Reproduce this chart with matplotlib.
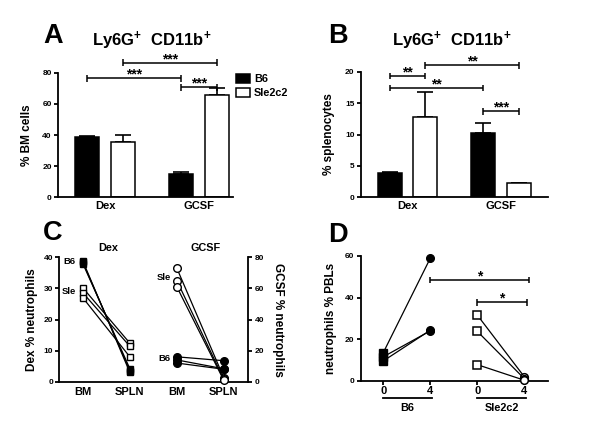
import matplotlib
matplotlib.use('Agg')
import matplotlib.pyplot as plt
import matplotlib.transforms as mtrans
from matplotlib.patches import Patch

plt.rcParams['font.family'] = ['Liberation Sans', 'DejaVu Sans']
plt.rcParams['font.weight'] = 'bold'
plt.rcParams['mathtext.default'] = 'regular'
plt.rcParams['axes.linewidth'] = 1.3
plt.rcParams['xtick.major.width'] = 1.3
plt.rcParams['ytick.major.width'] = 1.3
plt.rcParams['xtick.major.size'] = 3
plt.rcParams['ytick.major.size'] = 3
plt.rcParams['xtick.major.pad'] = 1.5
plt.rcParams['ytick.major.pad'] = 1.5

# ---------------- data ----------------
groups = ['Dex', 'GCSF']
strains = ['B6', 'Sle2c2']
title_txt = 'Ly6G$^{+}$  CD11b$^{+}$'

# Panel A: % BM cells
bm_b6 = [38.8, 14.8]
bm_b6_err = [0.8, 1.3]
bm_sle = [35.6, 66.0]
bm_sle_err = [4.4, 4.0]
# brackets: (group1, strain1, group2, strain2, height, label)
bm_sig = [(0, 0, 1, 0, 76.4, '***'), (0, 1, 1, 1, 86.4, '***'), (1, 0, 1, 1, 70.6, '***')]

# Panel B: % splenocytes
sp_b6 = [3.8, 10.3]
sp_b6_err = [0.15, 1.6]
sp_sle = [12.8, 2.2]
sp_sle_err = [4.0, 0.15]
sp_sig = [(0, 0, 0, 1, 19.3, '**'), (0, 1, 1, 1, 21.0, '**'),
          (0, 0, 1, 0, 17.4, '**'), (1, 0, 1, 1, 13.7, '***')]

# Panel C: % neutrophils BM vs SPLN
c_ticks = ['BM', 'SPLN', 'BM', 'SPLN']
dex_b6_bm = [38.8, 38.4, 38.0]
dex_b6_spln = [3.0, 3.6, 4.2]
dex_sle_bm = [30.2, 28.6, 27.0]
dex_sle_spln = [12.4, 11.4, 8.0]
gcsf_sle_bm = [73.0, 65.0, 61.0]
gcsf_sle_spln = [2.5, 1.5, 0.8]
gcsf_b6_bm = [16.0, 14.0, 12.0]
gcsf_b6_spln = [13.5, 8.3, 8.0]

# Panel D: neutrophils % PBLs, day 0 vs day 4
d_ticks = ['0', '4', '0', '4']
pbl_b6_d0 = [13.5, 11.5, 9.5]
pbl_b6_d4 = [59.0, 24.0, 24.3]
pbl_sle_d0 = [31.5, 23.7, 7.7]
pbl_sle_d4 = [1.8, 0.9, 0.2]
d_sig = [(1.0, 3.1, 48.5, '*'), (2.0, 3.05, 37.7, '*')]

# ---------------- figure ----------------
fig = plt.figure(figsize=(6.0, 4.37), dpi=100)
W, H = 600.0, 437.0


def add_ax(x0, x1, ytop, ybot):
    return fig.add_axes([x0 / W, 1 - ybot / H, (x1 - x0) / W, (ybot - ytop) / H])


def style(ax):
    ax.spines['top'].set_visible(False)
    ax.spines['right'].set_visible(False)
    ax.tick_params(axis='y', labelsize=6)
    ax.tick_params(axis='x', labelsize=8)
    for lab in ax.get_yticklabels() + ax.get_xticklabels():
        lab.set_fontweight('bold')


def bracket(ax, x1, x2, y, label, cap):
    kw = dict(color='black', lw=1.1, clip_on=False, solid_capstyle='butt')
    ax.plot([x1, x2], [y, y], **kw)
    ax.plot([x1, x1], [y - cap, y + cap], **kw)
    ax.plot([x2, x2], [y - cap, y + cap], **kw)
    ax.annotate(label, xy=((x1 + x2) / 2, y), xytext=(0, -0.3), textcoords='offset points',
                ha='center', va='baseline', fontsize=10, fontweight='bold',
                annotation_clip=False)


off = 0.19
bw = 0.255


def bar_panel(ax, b6, b6e, sle, sle_e, sig, ymax, ystep, ylabel, xmax):
    xb6 = [i - off for i in range(len(groups))]
    xsl = [i + off for i in range(len(groups))]
    ax.errorbar(xb6, b6, yerr=[[0] * len(b6), b6e], fmt='none', ecolor='black',
                elinewidth=1.2, capsize=5.5, capthick=1.2, zorder=1)
    ax.errorbar(xsl, sle, yerr=[[0] * len(sle), sle_e], fmt='none', ecolor='black',
                elinewidth=1.2, capsize=5.5, capthick=1.2, zorder=1)
    ax.bar(xb6, b6, width=bw, color='black', edgecolor='black', lw=1.1, zorder=2)
    ax.bar(xsl, sle, width=bw, color='white', edgecolor='black', lw=1.1, zorder=2)
    ax.set_ylim(0, ymax)
    ax.set_xlim(-0.5, xmax)
    ax.set_yticks(range(0, ymax + 1, ystep))
    ax.set_xticks(range(len(groups)))
    ax.set_xticklabels(groups)
    ax.tick_params(axis='x', length=0, pad=3)
    ax.set_ylabel(ylabel, fontsize=8.5, fontweight='bold')
    style(ax)
    cap = 0.026 * ymax
    for g1, s1, g2, s2, y, lab in sig:
        x1 = g1 + (off if s1 else -off)
        x2 = g2 + (off if s2 else -off)
        bracket(ax, x1, x2, y, lab, cap)


# Panel A
axA = add_ax(58, 233, 72.7, 197.3)
bar_panel(axA, bm_b6, bm_b6_err, bm_sle, bm_sle_err, bm_sig, 80, 20, '% BM cells', 1.36)
axA.yaxis.set_label_coords(-0.143, 0.5)

# Panel B
axB = add_ax(360.7, 548, 71.7, 197.3)
bar_panel(axB, sp_b6, sp_b6_err, sp_sle, sp_sle_err, sp_sig, 20, 5, '% splenocytes', 1.5)
axB.yaxis.set_label_coords(-0.137, 0.5)

# legend for A
fig.legend(handles=[Patch(facecolor='black', edgecolor='black', lw=1.1, label=strains[0]),
                    Patch(facecolor='white', edgecolor='black', lw=1.1, label=strains[1])],
           loc='upper left', bbox_to_anchor=(236 / W, 1 - 74 / H), frameon=False,
           prop={'size': 7.8, 'weight': 'bold'}, handlelength=1.3, handleheight=0.9,
           handletextpad=0.35, labelspacing=0.35, borderpad=0, borderaxespad=0)

# titles
fig.text(152 / W, 1 - 46.5 / H, title_txt, ha='center', va='baseline', fontsize=12, fontweight='bold')
fig.text(452 / W, 1 - 46.5 / H, title_txt, ha='center', va='baseline', fontsize=12, fontweight='bold')

# Panel C
axC = add_ax(59.3, 248.3, 257.3, 381.7)
axC2 = axC.twinx()
xc = [1, 2, 3, 4]
lk = dict(color='black', lw=0.9, zorder=2)
for a, b in zip(dex_b6_bm, dex_b6_spln):
    axC.plot([1, 2], [a, b], marker='s', ms=5, mfc='black', mec='black', mew=1.0, clip_on=False, **lk)
for a, b in zip(dex_sle_bm, dex_sle_spln):
    axC.plot([1, 2], [a, b], marker='s', ms=5, mfc='white', mec='black', mew=1.0, clip_on=False, **lk)
for a, b in zip(gcsf_sle_bm, gcsf_sle_spln):
    axC2.plot([3, 4], [a, b], marker='o', ms=5.5, mfc='white', mec='black', mew=1.0, clip_on=False, **lk)
for a, b in zip(gcsf_b6_bm, gcsf_b6_spln):
    axC2.plot([3, 4], [a, b], marker='o', ms=5.5, mfc='black', mec='black', mew=1.0, clip_on=False, **lk)
axC.set_xlim(0.5, 4.52)
axC.set_ylim(0, 40)
axC2.set_ylim(0, 80)
axC.set_yticks([0, 10, 20, 30, 40])
axC2.set_yticks([0, 20, 40, 60, 80])
axC.set_xticks(xc)
axC.set_xticklabels(c_ticks)
axC.tick_params(axis='x', length=0, pad=4)
style(axC)
axC2.spines['top'].set_visible(False)
axC2.spines['left'].set_visible(False)
axC2.spines['bottom'].set_visible(False)
axC2.tick_params(axis='y', labelsize=6)
for lab in axC2.get_yticklabels():
    lab.set_fontweight('bold')
axC.set_ylabel('Dex % neutrophils', fontsize=8.5, fontweight='bold')
axC.yaxis.set_label_coords(-0.113, 0.5)
axC2.set_ylabel('GCSF % neutrophils', fontsize=8.5, fontweight='bold', rotation=270, va='center')
axC2.yaxis.set_label_coords(1.157, 0.5)
ctr = mtrans.blended_transform_factory(axC.transData, axC.transAxes)
axC.text(1.53, 1.075, groups[0], transform=ctr, ha='center', va='center', fontsize=7.8, fontweight='bold')
axC.text(3.62, 1.075, groups[1], transform=ctr, ha='center', va='center', fontsize=7.8, fontweight='bold')
axC.text(0.85, 38.5, 'B6', ha='right', va='center', fontsize=6.8, fontweight='bold')
axC.text(0.85, 28.9, 'Sle', ha='right', va='center', fontsize=6.8, fontweight='bold')
axC2.text(2.87, 66.9, 'Sle', ha='right', va='center', fontsize=6.8, fontweight='bold')
axC2.text(2.87, 14.6, 'B6', ha='right', va='center', fontsize=6.8, fontweight='bold')

# Panel D
axD = add_ax(360.7, 548, 256, 380.7)
for a, b in zip(pbl_b6_d0, pbl_b6_d4):
    axD.plot([0], [a], marker='s', ms=5.5, mfc='black', mec='black', ls='none', clip_on=False, zorder=3)
    axD.plot([1], [b], marker='o', ms=5.5, mfc='black', mec='black', ls='none', clip_on=False, zorder=3)
    axD.plot([0, 1], [a, b], color='black', lw=0.9, zorder=2)
for a, b in zip(pbl_sle_d0, pbl_sle_d4):
    axD.plot([2], [a], marker='s', ms=5.5, mfc='white', mec='black', mew=1.1, ls='none', clip_on=False, zorder=3)
    axD.plot([3], [b], marker='o', ms=5.5, mfc='white', mec='black', mew=1.1, ls='none', clip_on=False, zorder=3)
    axD.plot([2, 3], [a, b], color='black', lw=0.9, zorder=2)
axD.set_xlim(-0.48, 3.5)
axD.set_ylim(0, 60)
axD.set_yticks([0, 20, 40, 60])
axD.set_xticks([0, 1, 2, 3])
axD.set_xticklabels(d_ticks)
axD.tick_params(axis='x', length=3, pad=1)
style(axD)
axD.set_ylabel('neutrophils % PBLs', fontsize=8.5, fontweight='bold')
axD.yaxis.set_label_coords(-0.127, 0.5)
for x1, x2, y, lab in d_sig:
    bracket(axD, x1, x2, y, lab, 0.026 * 60)
dtr = mtrans.blended_transform_factory(axD.transData, axD.transAxes)
for (xa, xb), lab in zip([(-0.01, 1.04), (1.99, 3.04)], strains):
    axD.plot([xa, xb], [-0.136, -0.136], color='black', lw=1.3, transform=dtr, clip_on=False)
    axD.text((xa + xb) / 2, -0.215, lab, transform=dtr, ha='center', va='center',
             fontsize=7.8, fontweight='bold')

# panel letters
for x, y, L in [(43, 43, 'A'), (328, 43, 'B'), (43, 240, 'C'), (328, 242, 'D')]:
    fig.text(x / W, 1 - y / H, L, fontsize=19.5, fontweight='bold', ha='left', va='baseline')

fig.savefig('out.png', dpi=100)
